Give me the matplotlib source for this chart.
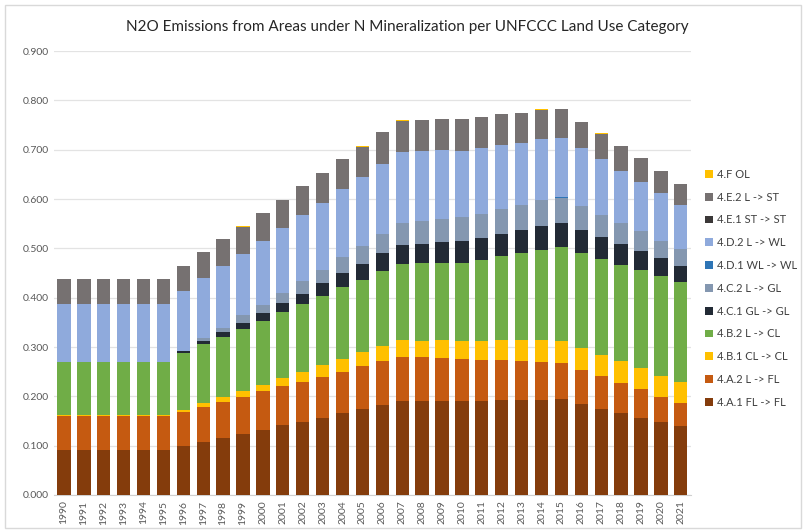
import numpy as np
import matplotlib.pyplot as plt
from matplotlib.patches import Rectangle

years = [str(y) for y in range(1990, 2022)]

# kt N2O (bottom to top)
fl_fl = [0.092, 0.092, 0.092, 0.092, 0.092, 0.092, 0.099, 0.107, 0.115, 0.123,
         0.132, 0.141, 0.149, 0.157, 0.166, 0.174, 0.182, 0.190, 0.191, 0.191,
         0.191, 0.191, 0.193, 0.193, 0.193, 0.194, 0.184, 0.175, 0.166, 0.157,
         0.147, 0.139]
l_fl = [0.068, 0.068, 0.068, 0.068, 0.068, 0.068, 0.069, 0.072, 0.074, 0.075,
        0.078, 0.079, 0.081, 0.083, 0.084, 0.087, 0.089, 0.090, 0.088, 0.087,
        0.085, 0.083, 0.080, 0.078, 0.077, 0.074, 0.070, 0.066, 0.061, 0.058,
        0.052, 0.047]
cl_cl = [0.002, 0.002, 0.002, 0.002, 0.002, 0.002, 0.004, 0.007, 0.009, 0.013,
         0.014, 0.018, 0.020, 0.023, 0.026, 0.028, 0.032, 0.035, 0.034, 0.036,
         0.037, 0.039, 0.041, 0.043, 0.044, 0.045, 0.045, 0.043, 0.044, 0.043,
         0.043, 0.044]
l_cl = [0.108, 0.108, 0.108, 0.108, 0.108, 0.108, 0.115, 0.120, 0.123, 0.125,
        0.129, 0.133, 0.137, 0.141, 0.145, 0.147, 0.151, 0.154, 0.157, 0.157,
        0.157, 0.164, 0.170, 0.177, 0.183, 0.189, 0.191, 0.195, 0.196, 0.198,
        0.201, 0.202]
gl_gl = [0.000, 0.000, 0.000, 0.000, 0.000, 0.000, 0.004, 0.006, 0.010, 0.013,
         0.016, 0.018, 0.021, 0.025, 0.029, 0.033, 0.036, 0.038, 0.039, 0.042,
         0.044, 0.045, 0.046, 0.047, 0.049, 0.050, 0.047, 0.044, 0.042, 0.039,
         0.037, 0.032]
l_gl = [0.000, 0.000, 0.000, 0.000, 0.000, 0.000, 0.001, 0.007, 0.008, 0.015,
        0.017, 0.021, 0.026, 0.028, 0.033, 0.036, 0.040, 0.044, 0.047, 0.047,
        0.049, 0.047, 0.049, 0.049, 0.052, 0.051, 0.049, 0.045, 0.042, 0.040,
        0.035, 0.034]
wl_wl = [0.000, 0.000, 0.000, 0.000, 0.000, 0.000, 0.000, 0.000, 0.000, 0.000,
         0.000, 0.000, 0.000, 0.000, 0.000, 0.000, 0.000, 0.000, 0.0005, 0.0005,
         0.0005, 0.0005, 0.0005, 0.0005, 0.0005, 0.0005, 0.0005, 0.0005, 0.0005,
         0.0005, 0.0005, 0.0005]
l_wl = [0.117, 0.117, 0.117, 0.117, 0.117, 0.117, 0.122, 0.120, 0.125, 0.125,
        0.128, 0.131, 0.133, 0.135, 0.137, 0.139, 0.142, 0.144, 0.141, 0.138,
        0.134, 0.133, 0.131, 0.127, 0.123, 0.121, 0.116, 0.112, 0.106, 0.100,
        0.096, 0.090]
st_st = [0.0] * 32
l_st = [0.050, 0.050, 0.050, 0.050, 0.050, 0.050, 0.050, 0.053, 0.054, 0.055,
        0.057, 0.057, 0.059, 0.060, 0.061, 0.062, 0.063, 0.064, 0.063, 0.064,
        0.064, 0.063, 0.061, 0.060, 0.060, 0.058, 0.054, 0.052, 0.050, 0.047,
        0.045, 0.042]
ol = [0.000, 0.000, 0.000, 0.000, 0.000, 0.000, 0.0007, 0.0007, 0.0007, 0.0007,
      0.0007, 0.0007, 0.0007, 0.0007, 0.0007, 0.0007, 0.0007, 0.0007, 0.0007,
      0.0007, 0.0007, 0.0007, 0.0007, 0.0007, 0.0007, 0.0007, 0.0007, 0.0007,
      0.0007, 0.0007, 0.0007, 0.0007]

series = [
    ('4.A.1 FL -> FL', fl_fl, '#843C0C'),
    ('4.A.2 L -> FL', l_fl, '#C55A11'),
    ('4.B.1 CL -> CL', cl_cl, '#FFC000'),
    ('4.B.2 L -> CL', l_cl, '#70AD47'),
    ('4.C.1 GL -> GL', gl_gl, '#222A35'),
    ('4.C.2 L -> GL', l_gl, '#8497B0'),
    ('4.D.1 WL -> WL', wl_wl, '#2E75B6'),
    ('4.D.2 L -> WL', l_wl, '#8FAADC'),
    ('4.E.1 ST -> ST', st_st, '#3B3838'),
    ('4.E.2 L -> ST', l_st, '#767171'),
    ('4.F OL', ol, '#FFC000'),
]

plt.rcParams['font.family'] = ['Lato', 'DejaVu Sans']

fig = plt.figure(figsize=(8.06, 5.31), dpi=100)
ax = fig.add_axes([0.067, 0.0678, 0.790, 0.836])

x = np.arange(len(years))
bottom = np.zeros(len(years))
handles = []
for name, vals, col in series:
    h = ax.bar(x, vals, 0.67, bottom=bottom, color=col, label=name, zorder=3)
    bottom += np.array(vals)
    handles.append(h)

ax.set_xlim(-0.5, len(years) - 0.5)
ax.set_ylim(0, 0.9)
ax.set_yticks(np.arange(0, 0.91, 0.1))
ax.set_yticklabels([f'{v:.3f}' for v in np.arange(0, 0.91, 0.1)])
ax.set_xticks(x)
ax.set_xticklabels(years, rotation=90)
ax.tick_params(axis='y', length=0, labelsize=7.5, labelcolor='#595959', pad=4)
ax.tick_params(axis='x', length=0, labelsize=7.5, labelcolor='#595959', pad=4)
ax.grid(axis='y', color='#E3E3E3', linewidth=0.9, zorder=0)
for s in ['top', 'right', 'left']:
    ax.spines[s].set_visible(False)
ax.spines['bottom'].set_color('#D0D0D0')

fig.text(0.505, 0.949,
         'N2O Emissions from Areas under N Mineralization per UNFCCC Land Use Category',
         ha='center', va='center', fontsize=11, color='#262626')

fig.legend(handles[::-1], [s[0] for s in series][::-1], loc='center left',
           bbox_to_anchor=(0.862, 0.457), frameon=False, fontsize=8,
           handlelength=0.7, handleheight=0.7, handletextpad=0.4,
           labelspacing=1.06, labelcolor='#404040')

fig.patches.append(Rectangle((0.006, 0.006), 0.988, 0.985, transform=fig.transFigure,
                             fill=False, edgecolor='#D9D9D9', linewidth=1))

fig.savefig('out.png', dpi=100)
